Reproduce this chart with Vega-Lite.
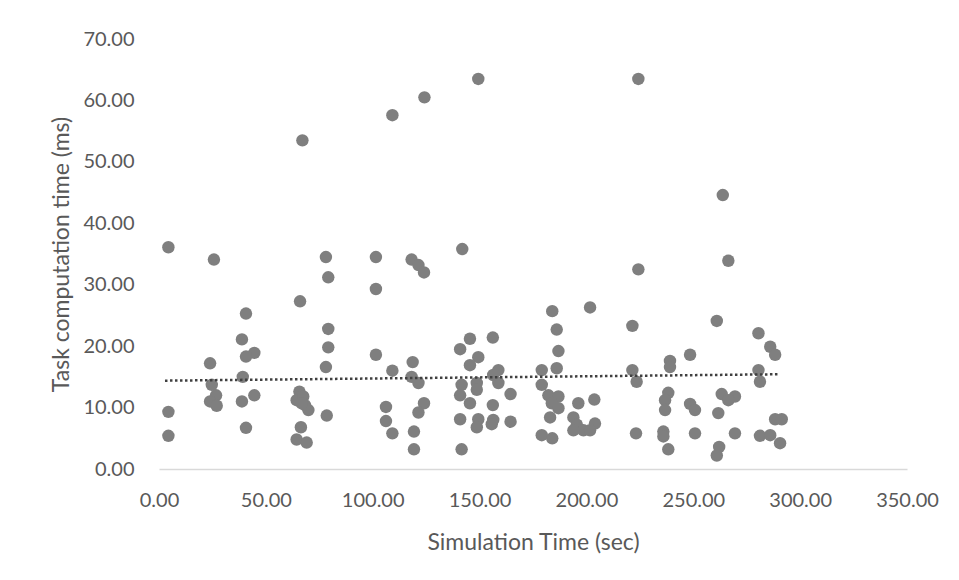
{
  "$schema": "https://vega.github.io/schema/vega-lite/v6.json",
  "width": 748,
  "height": 430,
  "autosize": "none",
  "padding": {"left": 159, "top": 39, "right": 52, "bottom": 111},
  "background": "white",
  "config": {"view": {"stroke": null}, "font": "Lato"},
  "datasets": {
    "points": [
      {"t": 109.2, "ms": 57.6}, {"t": 67.1, "ms": 53.5}, {"t": 4.4, "ms": 36.1},
      {"t": 149.4, "ms": 63.5}, {"t": 124.2, "ms": 60.5}, {"t": 224.3, "ms": 63.5},
      {"t": 263.8, "ms": 44.6},
      {"t": 25.7, "ms": 34.1}, {"t": 78.1, "ms": 34.5}, {"t": 79.2, "ms": 31.2},
      {"t": 101.5, "ms": 34.5}, {"t": 101.5, "ms": 29.3}, {"t": 66.0, "ms": 27.3},
      {"t": 40.7, "ms": 25.3}, {"t": 38.8, "ms": 21.1}, {"t": 44.6, "ms": 18.9},
      {"t": 40.7, "ms": 18.3}, {"t": 79.2, "ms": 22.8}, {"t": 79.2, "ms": 19.8},
      {"t": 78.1, "ms": 16.6}, {"t": 101.5, "ms": 18.6}, {"t": 23.9, "ms": 17.2},
      {"t": 109.2, "ms": 16.0}, {"t": 39.2, "ms": 15.0}, {"t": 24.7, "ms": 13.7},
      {"t": 26.7, "ms": 12.0}, {"t": 23.9, "ms": 11.0}, {"t": 27.0, "ms": 10.3},
      {"t": 44.6, "ms": 12.0}, {"t": 38.8, "ms": 11.0},
      {"t": 65.7, "ms": 12.6}, {"t": 64.4, "ms": 11.2}, {"t": 67.5, "ms": 11.8},
      {"t": 68.3, "ms": 10.4}, {"t": 69.9, "ms": 9.6}, {"t": 66.8, "ms": 10.7},
      {"t": 78.5, "ms": 8.7}, {"t": 4.4, "ms": 9.3}, {"t": 4.4, "ms": 5.4},
      {"t": 40.7, "ms": 6.7}, {"t": 66.4, "ms": 6.8}, {"t": 64.4, "ms": 4.8},
      {"t": 69.1, "ms": 4.3}, {"t": 106.2, "ms": 10.1}, {"t": 106.2, "ms": 7.8},
      {"t": 109.2, "ms": 5.8},
      {"t": 118.2, "ms": 34.1}, {"t": 121.4, "ms": 33.2}, {"t": 124.0, "ms": 32.0},
      {"t": 141.9, "ms": 35.8}, {"t": 224.3, "ms": 32.5}, {"t": 184.0, "ms": 25.7},
      {"t": 201.7, "ms": 26.3}, {"t": 221.5, "ms": 23.3}, {"t": 186.1, "ms": 22.7},
      {"t": 186.9, "ms": 19.2}, {"t": 145.5, "ms": 21.2}, {"t": 156.2, "ms": 21.4},
      {"t": 140.9, "ms": 19.5}, {"t": 149.4, "ms": 18.2}, {"t": 145.5, "ms": 16.9},
      {"t": 118.7, "ms": 17.4}, {"t": 118.2, "ms": 15.0}, {"t": 121.4, "ms": 14.0},
      {"t": 158.8, "ms": 16.1}, {"t": 158.8, "ms": 14.0}, {"t": 156.4, "ms": 15.3},
      {"t": 141.6, "ms": 13.7}, {"t": 148.7, "ms": 14.0}, {"t": 148.7, "ms": 12.9},
      {"t": 140.9, "ms": 12.0}, {"t": 179.1, "ms": 16.1}, {"t": 186.1, "ms": 16.4},
      {"t": 179.1, "ms": 13.7}, {"t": 221.5, "ms": 16.1}, {"t": 223.5, "ms": 14.2},
      {"t": 164.5, "ms": 12.2}, {"t": 124.0, "ms": 10.7},
      {"t": 121.4, "ms": 9.2}, {"t": 145.5, "ms": 10.7}, {"t": 156.2, "ms": 10.4},
      {"t": 182.2, "ms": 12.0}, {"t": 186.9, "ms": 11.8}, {"t": 183.8, "ms": 10.7},
      {"t": 186.9, "ms": 9.9}, {"t": 196.2, "ms": 10.7}, {"t": 203.7, "ms": 11.3},
      {"t": 183.0, "ms": 8.4}, {"t": 193.9, "ms": 8.4}, {"t": 195.5, "ms": 7.2},
      {"t": 198.6, "ms": 6.3}, {"t": 204.0, "ms": 7.4}, {"t": 201.7, "ms": 6.3},
      {"t": 193.9, "ms": 6.3}, {"t": 140.9, "ms": 8.1}, {"t": 149.4, "ms": 8.1},
      {"t": 148.7, "ms": 6.8}, {"t": 156.4, "ms": 8.0}, {"t": 155.7, "ms": 7.3},
      {"t": 164.5, "ms": 7.7}, {"t": 119.3, "ms": 6.1}, {"t": 119.3, "ms": 3.2},
      {"t": 141.6, "ms": 3.2}, {"t": 179.1, "ms": 5.5}, {"t": 184.0, "ms": 5.0},
      {"t": 223.2, "ms": 5.8},
      {"t": 266.4, "ms": 33.9}, {"t": 261.0, "ms": 24.1}, {"t": 280.5, "ms": 22.1},
      {"t": 286.0, "ms": 19.9}, {"t": 288.3, "ms": 18.6}, {"t": 248.5, "ms": 18.6},
      {"t": 239.1, "ms": 17.6}, {"t": 239.1, "ms": 16.6}, {"t": 280.5, "ms": 16.1},
      {"t": 281.2, "ms": 14.2}, {"t": 238.3, "ms": 12.4}, {"t": 236.8, "ms": 11.2},
      {"t": 236.8, "ms": 9.6}, {"t": 248.5, "ms": 10.6}, {"t": 250.8, "ms": 9.6},
      {"t": 263.3, "ms": 12.2}, {"t": 269.5, "ms": 11.8}, {"t": 266.4, "ms": 11.2},
      {"t": 261.7, "ms": 9.1}, {"t": 288.3, "ms": 8.1}, {"t": 291.4, "ms": 8.1},
      {"t": 236.0, "ms": 6.1}, {"t": 236.0, "ms": 5.3}, {"t": 238.3, "ms": 3.2},
      {"t": 250.8, "ms": 5.8}, {"t": 269.5, "ms": 5.8}, {"t": 281.2, "ms": 5.4},
      {"t": 286.0, "ms": 5.5}, {"t": 290.6, "ms": 4.2}, {"t": 262.1, "ms": 3.6},
      {"t": 261.0, "ms": 2.2}
    ],
    "trend": [
      {"t": 2.8, "ms": 14.38},
      {"t": 289.7, "ms": 15.42}
    ]
  },
  "encoding": {
    "x": {
      "field": "t",
      "type": "quantitative",
      "scale": {"domain": [0, 350], "nice": false, "zero": true},
      "axis": {
        "values": [0, 50, 100, 150, 200, 250, 300, 350],
        "format": ".2f",
        "grid": false,
        "ticks": false,
        "domainColor": "#d9d9d9",
        "domainWidth": 1.5,
        "labelColor": "#595959",
        "labelFontSize": 20,
        "labelPadding": 21,
        "labelFlush": false,
        "title": "Simulation Time (sec)",
        "titleColor": "#595959",
        "titleFontSize": 23,
        "titleFontWeight": "normal",
        "titlePadding": 21
      }
    },
    "y": {
      "field": "ms",
      "type": "quantitative",
      "scale": {"domain": [0, 70], "nice": false},
      "axis": {
        "values": [0, 10, 20, 30, 40, 50, 60, 70],
        "format": ".2f",
        "grid": false,
        "ticks": false,
        "domain": false,
        "labelColor": "#595959",
        "labelFontSize": 20,
        "labelPadding": 25,
        "labelFlush": false,
        "title": "Task computation time (ms)",
        "titleColor": "#595959",
        "titleFontSize": 23,
        "titleFontWeight": "normal",
        "titlePadding": 9
      }
    }
  },
  "layer": [
    {
      "data": {"name": "points"},
      "mark": {"type": "circle", "size": 155, "color": "#7f7f7f", "opacity": 1}
    },
    {
      "data": {"name": "trend"},
      "mark": {"type": "line", "color": "#404040", "strokeWidth": 2.5, "strokeDash": [2.5, 2.5]}
    }
  ]
}
